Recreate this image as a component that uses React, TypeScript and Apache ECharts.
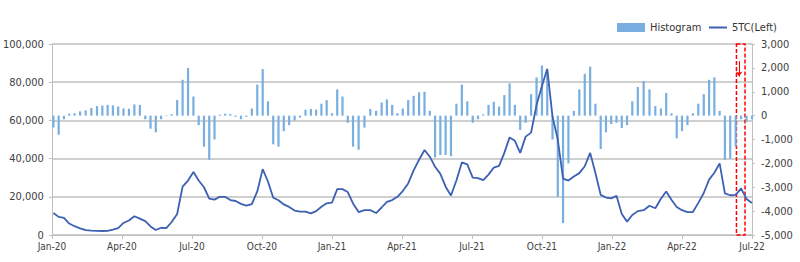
import React, { useEffect, useRef } from "react";
import * as echarts from "echarts";

// Weekly observations starting 2020-01-03
const startDate = "2020-01-03";

// 5TC spot (left axis)
const fiveTC: number[] = [
  11500, 9500, 9000, 6000, 4600, 3500, 2500, 2300, 2200, 2100,
  2200, 2800, 3600, 6300, 7600, 9800, 8600, 7300, 4500, 2600,
  3800, 3600, 6800, 11000, 25300, 28500, 33000, 28500, 25000, 19000,
  18500, 20000, 20000, 18300, 17800, 16300, 15400, 16200, 22800, 34500,
  28000, 19500, 18200, 16000, 14700, 12800, 12200, 12200, 11300, 12500,
  14800, 16600, 16900, 24000, 24000, 22500, 16500, 12000, 13000, 13000,
  11500, 14400, 17300, 18300, 20000, 23000, 27000, 33800, 39400, 44500,
  41000, 35700, 32000, 25300, 20700, 28500, 38000, 37000, 30000, 29800,
  28700, 31600, 35300, 36200, 43000, 51100, 49300, 43000, 51500, 53600,
  68000, 78000, 87000, 62000, 50000, 29500, 28500, 30600, 32400, 36000,
  43000, 32500, 21000, 19600, 19200, 20500, 11000, 7000, 10500, 12500,
  13000, 15300, 14000, 19000, 22800, 18500, 14700, 13000, 12000, 12000,
  16800, 22000, 29000, 32600, 37500, 21800, 20800, 21000, 24400, 18800,
  16800,
];

// Histogram (right axis)
const histogram: number[] = [
  -500, -800, -150, 80, 100, 180, 220, 320, 400, 420,
  450, 430, 380, 300, 290, 470, 450, -150, -550, -700,
  -150, 20, 60, 650, 1500, 2000, 800, -400, -1300, -1850,
  -1000, 40, 80, 60, -50, -150, -50, 300, 1300, 1950,
  600, -1200, -1300, -650, -400, -200, -80, 250, 280, 250,
  500, 650, 100, 1100, 800, -300, -1300, -1430, -500, 280,
  200, 550, 680, 450, 100, 300, 650, 830, 980, 1000,
  200, -1750, -1650, -1650, -1700, 500, 1300, 600, -300, -150,
  50, 450, 580, 380, 860, 1350, 450, -600, -300, 900,
  1600, 2100, 1800, -1000, -3400, -4500, -2000, 200, 1100, 1750,
  2050, 500, -1400, -700, -350, -300, -520, -400, 600, 1200,
  1450, 1100, 400, 300, 950, 100, -950, -650, -400, 100,
  500, 900, 1500, 1600, 200, -1850, -1800, -1300, -150, -250,
  -150,
];

const monthNames = ["Jan", "Feb", "Mar", "Apr", "May", "Jun", "Jul", "Aug", "Sep", "Oct", "Nov", "Dec"];
const leftTicks = { min: 0, max: 100000, interval: 20000 };
const rightTicks = { min: -5000, max: 3000, interval: 1000 };
const highlightWindow = ["2022-06-11", "2022-06-22"];

function toMonthValue(d: Date): number {
  const y = d.getUTCFullYear();
  const m = d.getUTCMonth();
  const dim = new Date(Date.UTC(y, m + 1, 0)).getUTCDate();
  return (y - 2020) * 12 + m + (d.getUTCDate() - 1) / dim;
}

function weekX(i: number): number {
  const s = new Date(startDate + "T00:00:00Z");
  const d = new Date(s.getTime() + i * 7 * 86400000);
  return toMonthValue(d);
}

const fmt = (v: number) => v.toLocaleString("en-US");
const FONT = "'Liberation Sans Narrow', 'DejaVu Sans Condensed', 'Liberation Sans', sans-serif";

export default function App() {
  const ref = useRef<HTMLDivElement>(null);
  useEffect(() => {
    if (!ref.current) return;
    const chart = echarts.init(ref.current, undefined, { renderer: "svg" });
    const lineData = fiveTC.map((v, i) => [weekX(i), v]);
    const barData = histogram.map((v, i) => [weekX(i), v]);
    const hx0 = toMonthValue(new Date(highlightWindow[0] + "T00:00:00Z"));
    const hx1 = toMonthValue(new Date(highlightWindow[1] + "T00:00:00Z"));
    const hmid = (hx0 + hx1) / 2;
    chart.setOption({
      animation: false,
      backgroundColor: "#ffffff",
      textStyle: { fontFamily: FONT },
      grid: { left: 50, right: 48, top: 44, bottom: 27, containLabel: false },
      legend: [
        {
          data: [{ name: "Histogram", icon: "rect" }],
          left: 612,
          top: 17,
          itemWidth: 28,
          itemHeight: 9,
          itemGap: 4,
          textStyle: { fontSize: 11, color: "#333", fontFamily: FONT },
        },
        {
          data: [{ name: "5TC(Left)", icon: "rect" }],
          left: 704,
          top: 17,
          itemWidth: 18,
          itemHeight: 2,
          textStyle: { fontSize: 11, color: "#333", fontFamily: FONT },
        },
      ],
      xAxis: {
        type: "value",
        min: 0,
        max: 30,
        interval: 3,
        axisLine: { show: true, lineStyle: { color: "#BFBFBF", width: 1 } },
        axisTick: { show: true, length: 4, lineStyle: { color: "#BFBFBF" } },
        splitLine: { show: false },
        axisLabel: {
          fontSize: 10,
          color: "#404040",
          margin: 6,
          fontFamily: FONT,
          formatter: (v: number) => {
            const idx = Math.round(v);
            return monthNames[idx % 12] + "-" + (20 + Math.floor(idx / 12));
          },
        },
      },
      yAxis: [
        {
          type: "value",
          ...leftTicks,
          axisLine: { show: true, lineStyle: { color: "#BFBFBF", width: 1 } },
          axisTick: { show: true, length: 3, lineStyle: { color: "#BFBFBF" } },
          splitLine: { show: true, lineStyle: { color: "#BFBFBF", width: 1.5 } },
          axisLabel: { fontSize: 11, color: "#404040", margin: 8, fontFamily: FONT, formatter: fmt },
        },
        {
          type: "value",
          ...rightTicks,
          position: "right",
          axisLine: { show: true, lineStyle: { color: "#BFBFBF", width: 1 } },
          axisTick: { show: true, length: 3, lineStyle: { color: "#BFBFBF" } },
          splitLine: { show: false },
          axisLabel: { fontSize: 11, color: "#404040", margin: 9, fontFamily: FONT, formatter: fmt },
        },
      ],
      series: [
        {
          name: "Histogram",
          type: "bar",
          yAxisIndex: 1,
          data: barData,
          barWidth: 2.2,
          itemStyle: { color: "#78AEE0" },
        },
        {
          name: "5TC(Left)",
          type: "line",
          yAxisIndex: 0,
          data: lineData,
          symbol: "none",
          lineStyle: { color: "#3B60B4", width: 1.8 },
          itemStyle: { color: "#3B60B4" },
          markArea: {
            silent: true,
            itemStyle: {
              color: "rgba(0,0,0,0)",
              borderColor: "#FF0000",
              borderWidth: 1.5,
              borderType: [4, 2],
            },
            data: [[{ xAxis: hx0, yAxis: 100000 }, { xAxis: hx1, yAxis: 0 }]],
          },
          markLine: {
            silent: true,
            symbol: ["none", "arrow"],
            symbolSize: 5,
            label: { show: false },
            lineStyle: { color: "#FF0000", width: 1, type: "solid" },
            data: [[{ coord: [hmid - 0.07, 91000] }, { coord: [hmid - 0.07, 83000] }]],
          },
        },
      ],
    });
    return () => chart.dispose();
  }, []);
  return (
    <div
      ref={ref}
      style={{ position: "fixed", left: 0, top: 0, width: 800, height: 262, background: "#fff" }}
    />
  );
}
